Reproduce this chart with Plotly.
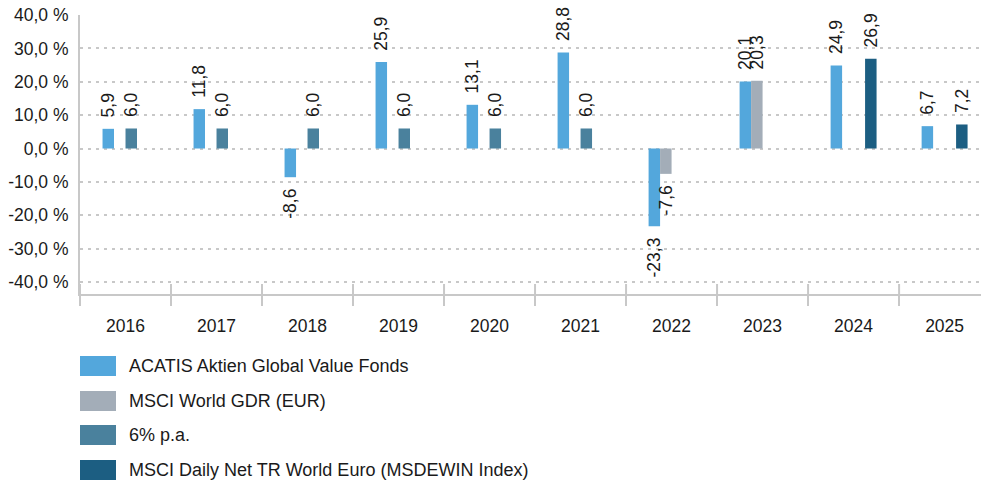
import plotly.graph_objects as go

years = ["2016", "2017", "2018", "2019", "2020", "2021", "2022", "2023", "2024", "2025"]
acatis = [5.9, 11.8, -8.6, 25.9, 13.1, 28.8, -23.3, 20.1, 24.9, 6.7]
msci_gdr = [None, None, None, None, None, None, -7.6, 20.3, None, None]
six_pa = [6.0, 6.0, 6.0, 6.0, 6.0, 6.0, None, None, None, None]
msdewin = [None, None, None, None, None, None, None, None, 26.9, 7.2]

series_names = [
    "ACATIS Aktien Global Value Fonds",
    "MSCI World GDR (EUR)",
    "6% p.a.",
    "MSCI Daily Net TR World Euro (MSDEWIN Index)",
]
series_values = [acatis, msci_gdr, six_pa, msdewin]
colors = ["#53A7DC", "#A3ADB8", "#4A819D", "#1C5E82"]

ytick_vals = [40, 30, 20, 10, 0, -10, -20, -30, -40]
ytick_text = ["40,0 %", "30,0 %", "20,0 %", "10,0 %", "0,0 %",
              "-10,0 %", "-20,0 %", "-30,0 %", "-40,0 %"]

FONT = "Liberation Sans, Arial, sans-serif"
TXT = "#1a1a1a"
NB = "\u00a0\u2009"


def fmt(v):
    if v is None:
        return None
    s = f"{v:.1f}".replace(".", ",")
    return NB + s if v >= 0 else s + NB


fig = go.Figure()
for name, vals, col in zip(series_names, series_values, colors):
    fig.add_trace(go.Bar(
        x=years, y=vals, name=name, marker=dict(color=col, line=dict(width=0)),
        text=[fmt(v) for v in vals], textposition="outside", textangle=-90,
        constraintext="none", cliponaxis=False,
        textfont=dict(family=FONT, size=17.5, color=TXT),
        showlegend=False,
    ))

W, H = 981, 484
ML, MT = 80, 15
MB = H - 294
plot_h = H - MT - MB

grid_col = "#c8c8c8"
fig.update_layout(
    width=W, height=H,
    margin=dict(l=ML, r=0, t=MT, b=MB, pad=0, autoexpand=False),
    barmode="group", bargap=0.495, bargroupgap=0,
    plot_bgcolor="white", paper_bgcolor="white",
    font=dict(family=FONT, size=17.5, color=TXT),
    xaxis=dict(
        type="category", range=[-0.5, 9.4], showgrid=False, automargin=False,
        showline=True, linecolor=grid_col, linewidth=2,
        ticks="outside", tickson="boundaries", ticklen=10, tickwidth=2,
        tickcolor=grid_col, ticklabelstandoff=15,
        tickfont=dict(family=FONT, size=17.5, color=TXT),
    ),
    yaxis=dict(
        range=[-43.6, 40.01], tickvals=ytick_vals, ticktext=ytick_text, automargin=False,
        showgrid=True, gridcolor=grid_col, gridwidth=2, griddash="3px,5px",
        zeroline=False, showline=True, linecolor=grid_col, linewidth=2,
        ticks="", ticklabelstandoff=6,
        tickfont=dict(family=FONT, size=17.5, color=TXT),
    ),
)

# upper half of the crossing x-axis ticks
for k in range(11):
    fig.add_shape(type="line", xref="x", yref="paper",
                  x0=k - 0.5, x1=k - 0.5, y0=0, y1=10 / plot_h,
                  line=dict(color=grid_col, width=2))
# y-axis line continues a little below the x axis
fig.add_shape(type="line", xref="x", yref="paper",
              x0=-0.5, x1=-0.5, y0=0, y1=-10 / plot_h,
              line=dict(color=grid_col, width=2))

# manual legend
row_centers = [366, 401, 435, 470]
for name, col, py in zip(series_names, colors, row_centers):
    yc = (H - MB - py) / plot_h
    fig.add_shape(type="rect", xref="paper", yref="paper",
                  x0=0, x1=36 / (W - ML), y0=yc - 10 / plot_h, y1=yc + 10 / plot_h,
                  fillcolor=col, line=dict(width=0))
    fig.add_annotation(xref="paper", yref="paper", x=47 / (W - ML), y=yc,
                       xanchor="left", yanchor="middle", text=name, showarrow=False,
                       font=dict(family=FONT, size=18, color=TXT))

fig.write_html("out.html", config={"displayModeBar": False},
               post_script="document.body.style.margin='0';document.body.style.overflow='hidden';")
